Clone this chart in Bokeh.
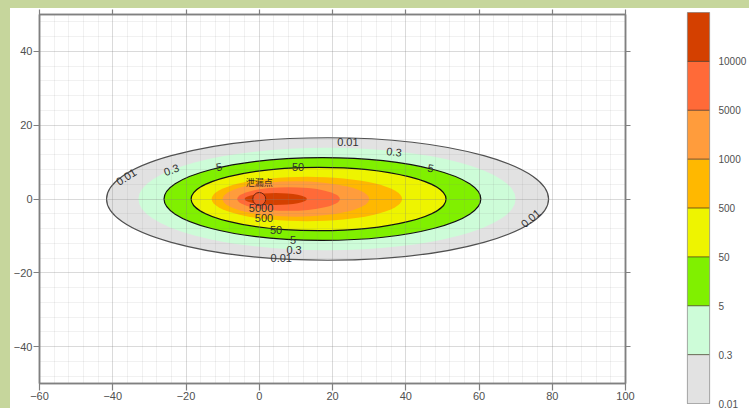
import numpy as np
from bokeh.plotting import figure
from bokeh.models import (LinearAxis, Range1d, FixedTicker, SingleIntervalTicker,
                          ColumnDataSource, CustomJSTickFormatter)
from bokeh.core.properties import value
from bokeh.embed import file_html
from bokeh.resources import INLINE

# ---- data ----
levels = ["0.01", "0.3", "5", "50", "500", "1000", "5000", "10000"]
band_colors = ["#e2e2e2", "#cdfcd8", "#80f000", "#eef400", "#ffb800", "#ff9c3c", "#ff6a38", "#d44000"]
# extents of each closed contour (x left, x right, half height), data units
x_left = [-41.7, -33.0, -26.0, -18.6, -13.0, -10.0, -6.0, -4.0]
x_right = [79.0, 70.0, 60.5, 51.0, 39.0, 30.0, 22.0, 13.0]
half_h = [16.6, 13.9, 11.2, 8.6, 6.0, 4.8, 3.2, 1.6]
line_cols = ["#505050", None, "#111111", "#111111", None, None, None, None]

# contour labels
lab_text = ["0.01", "0.01", "0.01", "0.01", "0.3", "0.3", "0.3", "5", "5", "5", "50", "50", "5000", "500"]
lab_x = [24.2, -36.3, 74.1, 6.0, 36.8, -24.0, 9.5, -11.0, 46.8, 9.2, 10.6, 4.6, 0.5, 1.3]
lab_y = [15.5, 6.0, -5.2, -16.0, 12.8, 7.9, -13.9, 8.7, 8.4, -11.2, 8.7, -8.5, -2.4, -5.2]
lab_angle_deg = [0, 32, 40, 0, -6, 20, 0, 10, -10, 0, 0, 0, 0, 0]

src_x = [0.0]
src_y = [0.0]
src_name = ["泄漏点"]

x_ticks_interval = 20
y_ticks_interval = 20

# ---- main figure ----
FONT = "Liberation Sans"
p = figure(width=630, height=400, x_range=Range1d(-60, 100), y_range=Range1d(-50, 50),
           toolbar_location=None, output_backend="svg",
           min_border_left=28, min_border_right=15, min_border_top=6, min_border_bottom=25,
           background_fill_color="white", border_fill_color="white",
           outline_line_color="#808080", outline_line_width=1.5)

xt = SingleIntervalTicker(interval=x_ticks_interval, num_minor_ticks=5)
yt = SingleIntervalTicker(interval=y_ticks_interval, num_minor_ticks=5)
p.xaxis.ticker = xt
p.yaxis.ticker = yt

for ax, tick in [(p.xaxis[0], 7), (p.yaxis[0], 6)]:
    ax.axis_line_color = "#808080"
    ax.axis_line_width = 1.5
    ax.major_tick_line_color = "#808080"
    ax.major_tick_line_width = 1.2
    ax.major_tick_out = tick
    ax.major_tick_in = 0
    ax.minor_tick_line_color = None
    ax.major_label_text_font = FONT
    ax.major_label_text_font_size = "11px"
    ax.major_label_text_color = "#505050"
    ax.major_label_standoff = 1

blank = CustomJSTickFormatter(code="return ''")
for loc in ["above", "right"]:
    ax = LinearAxis(ticker=xt if loc == "above" else yt, formatter=blank)
    ax.axis_line_color = "#808080"
    ax.axis_line_width = 1.5
    ax.major_tick_line_color = "#808080"
    ax.major_tick_line_width = 1.2
    ax.major_tick_out = 5
    ax.major_tick_in = 0
    ax.minor_tick_line_color = None
    ax.major_label_text_font_size = "1px"
    ax.major_label_standoff = 0
    p.add_layout(ax, loc)

for g in [p.xgrid[0], p.ygrid[0]]:
    g.grid_line_color = "#808080"
    g.grid_line_alpha = 0.2
    g.minor_grid_line_color = "#808080"
    g.minor_grid_line_alpha = 0.11
    g.level = "overlay"

cx = [(a + b) / 2 for a, b in zip(x_left, x_right)]
w = [b - a for a, b in zip(x_left, x_right)]
h = [2 * v for v in half_h]
cy = [0.0] * len(levels)
ell = ColumnDataSource(dict(x=cx, y=cy, w=w, h=h, fill=band_colors,
                            line=[c if c else band_colors[i] for i, c in enumerate(line_cols)],
                            lw=[1.2 if c else 0.01 for c in line_cols]))
p.ellipse(x="x", y="y", width="w", height="h", source=ell, fill_color="fill",
          line_color="line", line_width="lw")

# emission point marker and name
p.scatter(x=src_x, y=src_y, size=13, fill_color="#f05a28", line_color="#6a2410", line_width=1)
p.text(x=src_x, y=[v + 4.6 for v in src_y], text=src_name, text_font=value("Noto Sans CJK SC"),
       text_font_size="9px", text_color="#3a2a20", text_align="center", text_baseline="middle")

lab = ColumnDataSource(dict(x=lab_x, y=lab_y, t=lab_text, a=[np.deg2rad(d) for d in lab_angle_deg]))
p.text(x="x", y="y", text="t", angle="a", source=lab, text_font=value(FONT),
       text_font_size="11px", text_color="#303030", text_align="center", text_baseline="middle")

# ---- colour bar (separate root, placed to the right by CSS flex) ----
idx = list(range(len(levels)))
cb = figure(width=109, height=400, x_range=Range1d(0, 1), y_range=Range1d(0, len(levels)),
            toolbar_location=None, output_backend="svg",
            min_border_left=47, min_border_right=37, min_border_top=4, min_border_bottom=5,
            outline_line_color="#999999", outline_line_width=1.2,
            background_fill_color="white", border_fill_color="white")
cb.xaxis.visible = False
cb.yaxis.visible = False
cb.xgrid.visible = False
cb.ygrid.visible = False
cb.quad(left=0, right=1, bottom=idx, top=[i + 1 for i in idx], fill_color=band_colors, line_color=None)
cb.segment(x0=[0] * (len(levels) - 1), x1=[1] * (len(levels) - 1), y0=idx[1:], y1=idx[1:],
           line_color="#3a2a1a", line_alpha=0.7, line_width=1)
cax = LinearAxis(ticker=FixedTicker(ticks=idx),
                 major_label_overrides={i: levels[i] for i in idx})
cax.axis_line_color = None
cax.major_tick_line_color = None
cax.minor_tick_line_color = None
cax.major_label_text_font = FONT
cax.major_label_text_font_size = "10px"
cax.major_label_text_color = "#505050"
cax.major_label_standoff = 3
cb.add_layout(cax, "right")

html = file_html([p, cb], INLINE)
css = ("<style>html{background:#c6d69c !important;}"
       "body{padding:8px 0 0 10px !important;background:#ffffff !important;"
       "background-clip:content-box !important;display:flex !important;"
       "flex-direction:row !important;align-items:flex-start !important;}</style>")
html = html.replace("</head>", css + "</head>", 1)
open("out.html", "w").write(html)
